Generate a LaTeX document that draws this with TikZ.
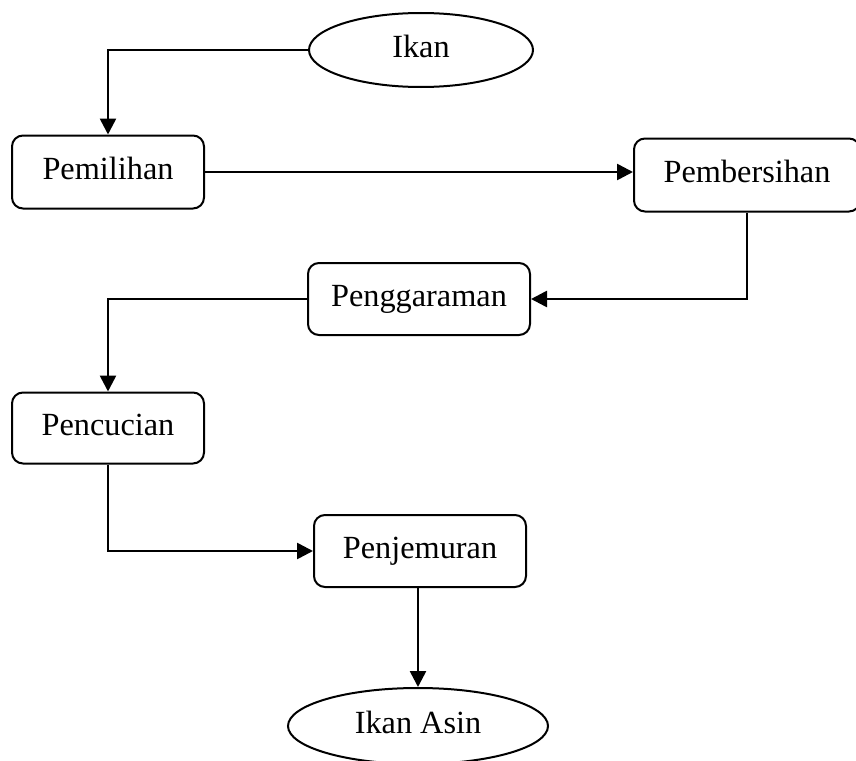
\documentclass[tikz,border=0pt]{standalone}
\usepackage{fontspec}
\setmainfont{Liberation Serif}
\usetikzlibrary{shapes.geometric,arrows.meta}
\begin{document}
\begin{tikzpicture}[x=1pt,y=-1pt,
  lbl/.style={inner sep=0pt,font=\fontsize{32.3}{38}\selectfont,text height=22pt,text depth=7pt},
  box/.style={lbl,draw,rounded corners=11pt,line width=2pt},
  oval/.style={lbl,draw,ellipse,line width=2pt},
  conn/.style={line width=2.6pt,-{Triangle[length=16pt,width=16pt]}}]
\useasboundingbox (0,0) rectangle (856,760);
\node[oval,minimum width=224pt,minimum height=74pt] (ikan) at (421,50) {Ikan};
\node[box,minimum width=192pt,minimum height=73pt] (pemilihan) at (108,172) {Pemilihan};
\node[box,minimum width=226pt,minimum height=73pt] (pembersihan) at (747,175) {Pembersihan};
\node[box,minimum width=222pt,minimum height=72pt] (penggaraman) at (419,299) {Penggaraman};
\node[box,minimum width=192pt,minimum height=71pt] (pencucian) at (108,428) {Pencucian};
\node[box,minimum width=212pt,minimum height=72pt] (penjemuran) at (420,551) {Penjemuran};
\node[oval,minimum width=260pt,minimum height=76pt] (asin) at (418,726) {Ikan Asin};
\draw[conn] (ikan.west) -| (pemilihan.north);
\draw[conn] (pemilihan.east) -- (pembersihan.west |- pemilihan.east);
\draw[conn] (pembersihan.south) |- (penggaraman.east);
\draw[conn] (penggaraman.west) -| (pencucian.north);
\draw[conn] (pencucian.south) |- (penjemuran.west);
\draw[conn] (penjemuran.south -| asin.north) -- (asin.north);
\end{tikzpicture}
\end{document}
